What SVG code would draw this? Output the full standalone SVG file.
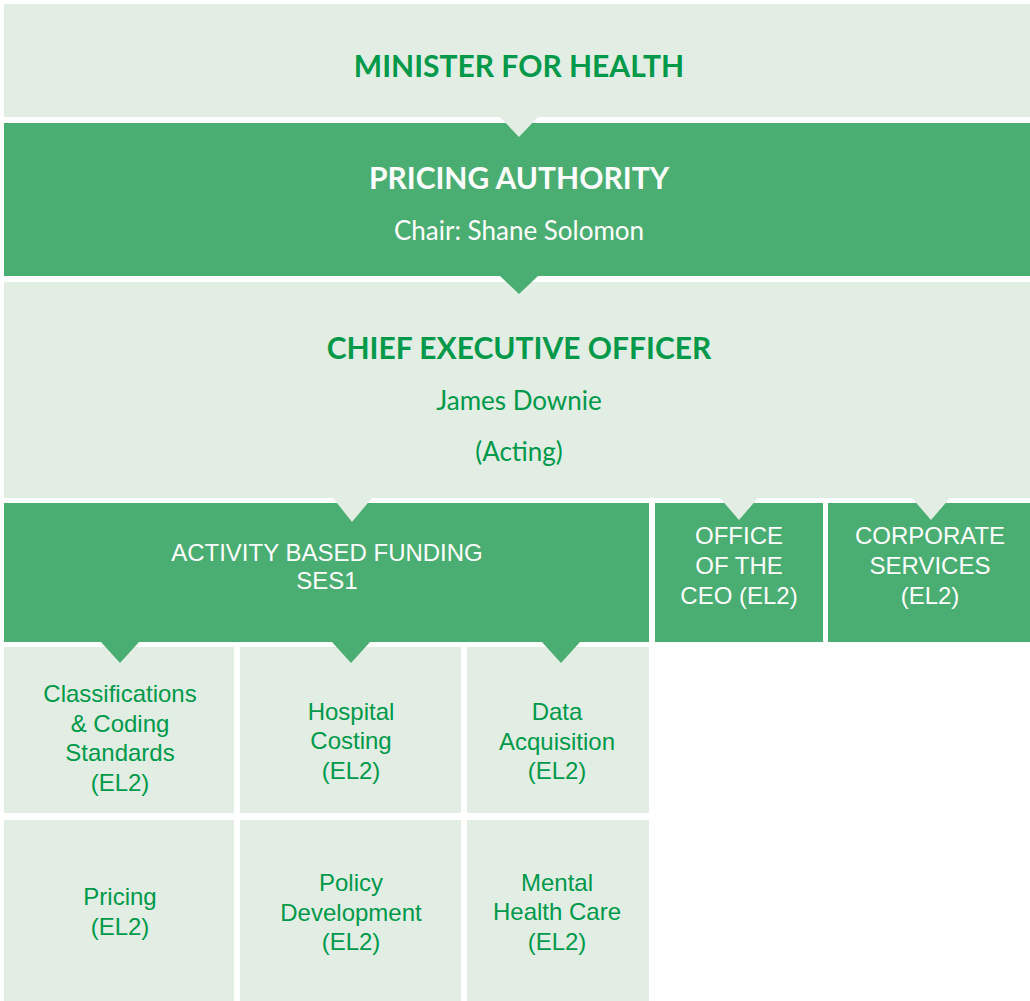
<svg xmlns="http://www.w3.org/2000/svg" width="1030" height="1001" viewBox="0 0 1030 1001">
  <style>
    .light { fill: #e2eee3; }
    .dark { fill: #4aad71; }
    .head { font-family: Lato, "Open Sans", sans-serif; font-weight: bold; font-size: 30px; text-anchor: middle; }
    .sub { font-family: Lato, "Open Sans", sans-serif; font-size: 26px; text-anchor: middle; }
    .lbl { font-family: "Liberation Sans", Arial, sans-serif; font-size: 24px; text-anchor: middle; }
    .g { fill: #00994a; }
    .w { fill: #ffffff; }
  </style>
  <rect width="1030" height="1001" fill="#ffffff"/>

  <g id="minister">
    <rect class="light" x="4" y="4" width="1026" height="113"/>
    <text class="head g" x="519" y="77">MINISTER FOR HEALTH</text>
  </g>

  <g id="pricing-authority">
    <rect class="dark" x="4" y="123" width="1026" height="153"/>
    <text class="head w" x="519" y="189">PRICING AUTHORITY</text>
    <text class="sub w" x="519" y="240">Chair: Shane Solomon</text>
  </g>

  <g id="ceo">
    <rect class="light" x="4" y="282" width="1026" height="216"/>
    <text class="head g" x="519" y="359">CHIEF EXECUTIVE OFFICER</text>
    <text class="sub g" x="519" y="410">James Downie</text>
    <text class="sub g" x="519" y="461">(Acting)</text>
  </g>

  <g id="abf">
    <rect class="dark" x="4" y="503" width="645" height="139"/>
    <text class="lbl w" x="327" y="561">ACTIVITY BASED FUNDING</text>
    <text class="lbl w" x="327" y="589">SES1</text>
  </g>

  <g id="office-ceo">
    <rect class="dark" x="655" y="503" width="168" height="139"/>
    <text class="lbl w" x="739" y="544">OFFICE</text>
    <text class="lbl w" x="739" y="574">OF THE</text>
    <text class="lbl w" x="739" y="604">CEO (EL2)</text>
  </g>

  <g id="corporate">
    <rect class="dark" x="828" y="503" width="202" height="139"/>
    <text class="lbl w" x="930" y="544">CORPORATE</text>
    <text class="lbl w" x="930" y="574">SERVICES</text>
    <text class="lbl w" x="930" y="604">(EL2)</text>
  </g>

  <g id="classifications">
    <rect class="light" x="4" y="647" width="230" height="166"/>
    <text class="lbl g" x="120" y="702">Classifications</text>
    <text class="lbl g" x="120" y="732">&amp; Coding</text>
    <text class="lbl g" x="120" y="761">Standards</text>
    <text class="lbl g" x="120" y="791">(EL2)</text>
  </g>

  <g id="hospital-costing">
    <rect class="light" x="240" y="647" width="221" height="166"/>
    <text class="lbl g" x="351" y="720">Hospital</text>
    <text class="lbl g" x="351" y="749">Costing</text>
    <text class="lbl g" x="351" y="779">(EL2)</text>
  </g>

  <g id="data-acquisition">
    <rect class="light" x="467" y="647" width="182" height="166"/>
    <text class="lbl g" x="557" y="720">Data</text>
    <text class="lbl g" x="557" y="750">Acquisition</text>
    <text class="lbl g" x="557" y="779">(EL2)</text>
  </g>

  <g id="pricing">
    <rect class="light" x="4" y="820" width="230" height="181"/>
    <text class="lbl g" x="120" y="905">Pricing</text>
    <text class="lbl g" x="120" y="935">(EL2)</text>
  </g>

  <g id="policy-development">
    <rect class="light" x="240" y="820" width="221" height="181"/>
    <text class="lbl g" x="351" y="891">Policy</text>
    <text class="lbl g" x="351" y="921">Development</text>
    <text class="lbl g" x="351" y="950">(EL2)</text>
  </g>

  <g id="mental-health">
    <rect class="light" x="467" y="820" width="182" height="181"/>
    <text class="lbl g" x="557" y="891">Mental</text>
    <text class="lbl g" x="557" y="920">Health Care</text>
    <text class="lbl g" x="557" y="950">(EL2)</text>
  </g>

  <!-- reporting-line notches: each wedge hangs from the parent box into the child -->
  <g id="connectors">
    <polygon class="light" points="500,117 538,117 519,137"/>
    <polygon class="dark" points="500,276 538,276 519,294"/>
    <polygon class="light" points="333,498 372,498 352,522"/>
    <polygon class="light" points="720,498 758,498 739,520"/>
    <polygon class="light" points="912,498 950,498 931,520"/>
    <polygon class="dark" points="101,642 139,642 120,663"/>
    <polygon class="dark" points="332,642 370,642 351,663"/>
    <polygon class="dark" points="542,642 580,642 561,663"/>
  </g>
</svg>
